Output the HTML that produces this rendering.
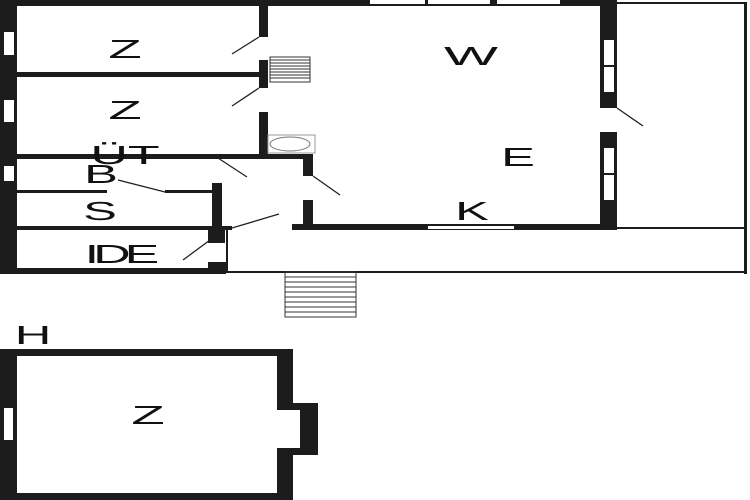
<!DOCTYPE html>
<html><head><meta charset="utf-8"><style>
html,body{margin:0;padding:0;background:#fff;width:750px;height:500px;overflow:hidden}
svg{display:block}
text{font-family:"Liberation Sans",sans-serif;fill:#111;text-anchor:middle}
</style></head><body>
<svg width="750" height="500" viewBox="0 0 750 500" xmlns="http://www.w3.org/2000/svg">
<rect width="750" height="500" fill="#fff"/>
<g fill="#1c1c1c">
<rect x="0" y="0" width="17" height="274"/>
<rect x="0" y="0" width="617" height="6"/>
<rect x="0" y="268" width="226" height="6"/>
<rect x="259" y="0" width="9" height="37"/>
<rect x="259" y="60" width="9" height="28"/>
<rect x="259" y="112" width="9" height="47"/>
<rect x="17" y="72" width="243" height="5"/>
<rect x="17" y="154" width="296" height="5"/>
<rect x="17" y="190" width="90" height="3"/>
<rect x="165" y="190" width="48" height="3"/>
<rect x="17" y="226" width="215" height="4"/>
<rect x="292" y="224" width="325" height="6"/>
<rect x="212" y="183" width="10" height="47"/>
<rect x="208" y="226" width="17" height="17"/>
<rect x="208" y="262" width="18" height="12"/>
<rect x="303" y="159" width="10" height="17"/>
<rect x="303" y="200" width="10" height="30"/>
<rect x="600" y="0" width="17" height="108"/>
<rect x="600" y="132" width="17" height="98"/>
<rect x="617" y="2" width="130" height="2"/>
<rect x="744" y="2" width="3" height="272"/>
<rect x="617" y="227" width="130" height="2"/>
<rect x="226" y="271" width="521" height="2"/>
<rect x="226" y="229" width="2" height="44"/>
<rect x="0" y="349" width="293" height="7"/>
<rect x="0" y="349" width="17" height="151"/>
<rect x="0" y="493" width="293" height="7"/>
<rect x="277" y="349" width="16" height="61"/>
<rect x="277" y="448" width="16" height="52"/>
<rect x="293" y="403" width="25" height="52"/>
</g>
<g fill="#fff">
<rect x="4" y="32" width="10" height="23"/>
<rect x="4" y="100" width="10" height="22"/>
<rect x="4" y="166" width="10" height="15"/>
<rect x="4" y="408" width="9" height="32"/>
<rect x="604" y="40" width="10" height="25"/>
<rect x="604" y="67" width="10" height="25"/>
<rect x="604" y="148" width="10" height="25"/>
<rect x="604" y="175" width="10" height="25"/>
<rect x="370" y="0" width="55" height="4"/>
<rect x="428" y="0" width="62" height="4"/>
<rect x="497" y="0" width="63" height="4"/>
<rect x="428" y="226" width="86" height="3"/>
<rect x="293" y="410" width="7" height="38"/>
</g>
<g stroke="#333" stroke-width="1" fill="none">
<rect x="270" y="57" width="40" height="25"/>
<path d="M270 60H310M270 63H310M270 66H310M270 69H310M270 72H310M270 75H310M270 78H310"/>
<rect x="285" y="272" width="71" height="45"/>
<path d="M285 277H356M285 282H356M285 287H356M285 292H356M285 297H356M285 302H356M285 307H356M285 312H356"/>
<rect x="268" y="135" width="47" height="18" stroke="#999"/>
<ellipse cx="290" cy="144" rx="20" ry="7" stroke="#777"/>
</g>
<g stroke="#222" stroke-width="1.3">
<line x1="259" y1="37" x2="232" y2="54"/>
<line x1="259" y1="88" x2="232" y2="106"/>
<line x1="218" y1="158" x2="247" y2="177"/>
<line x1="118" y1="180" x2="165" y2="192"/>
<line x1="232" y1="228" x2="279" y2="214"/>
<line x1="210" y1="240" x2="183" y2="260"/>
<line x1="313" y1="176" x2="340" y2="195"/>
<line x1="617" y1="108" x2="643" y2="126"/>
</g>
<g font-size="26">
<text transform="translate(125,58) scale(2.1,1)">Z</text>
<text transform="translate(125,119) scale(2.1,1)">Z</text>
<text transform="translate(125,164) scale(2.0,1)">ÜT</text>
<text transform="translate(101,183) scale(1.95,1)">B</text>
<text transform="translate(100,220) scale(1.95,1)">S</text>
<text transform="translate(119,263) scale(2.0,1)" letter-spacing="-3">IDE</text>
<text transform="translate(471,65) scale(2.2,1)">W</text>
<text transform="translate(518,166) scale(1.95,1)">E</text>
<text transform="translate(472,220) scale(1.95,1)">K</text>
<text transform="translate(148,424) scale(2.1,1)">Z</text>
<text transform="translate(33,344) scale(1.95,1)">H</text>
</g>
</svg>
</body></html>
